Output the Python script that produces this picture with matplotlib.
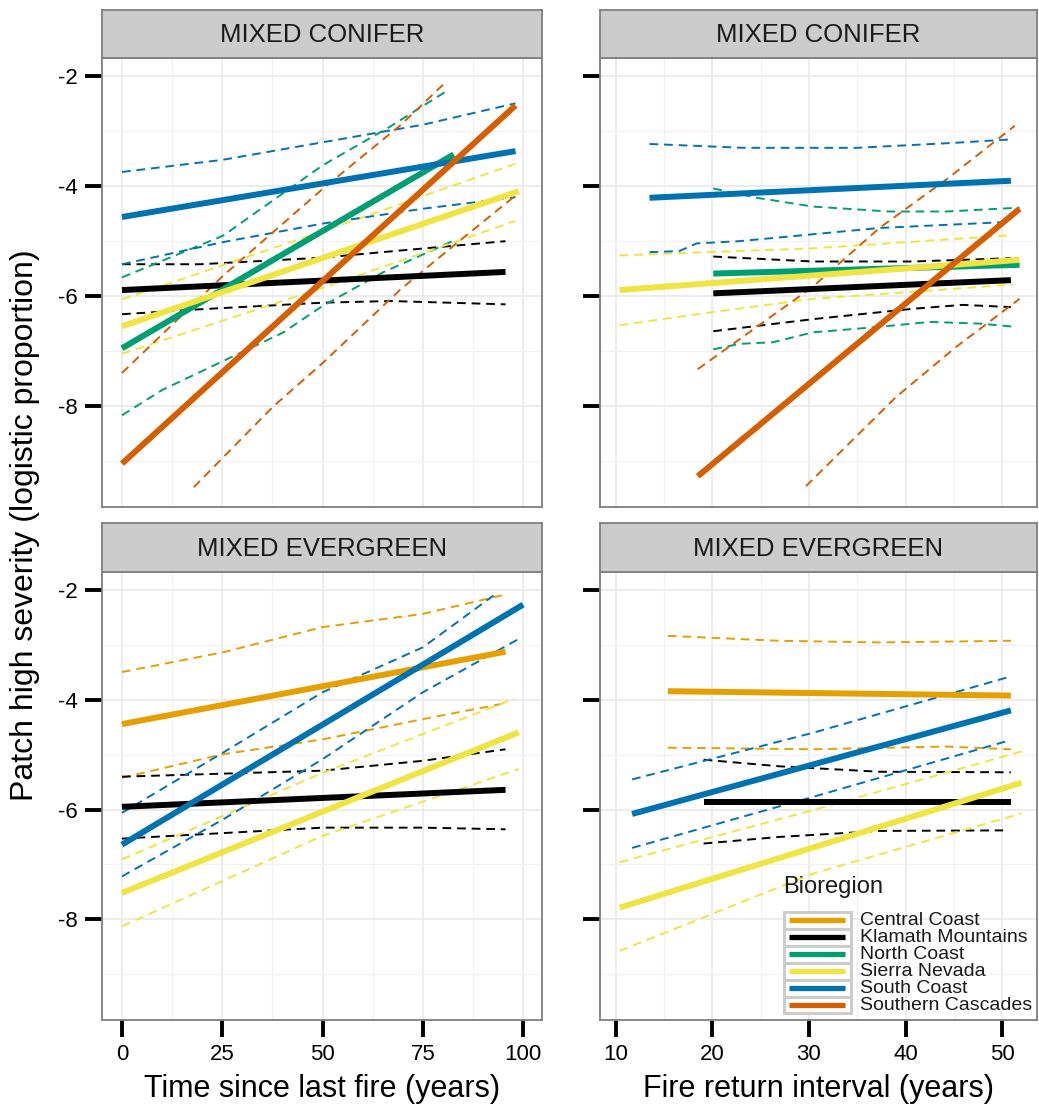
import matplotlib
matplotlib.use("Agg")
import matplotlib.pyplot as plt
from matplotlib.patches import Rectangle
from matplotlib.ticker import FixedLocator

plt.rcParams['font.family'] = ['Liberation Sans', 'DejaVu Sans']
plt.rcParams['axes.unicode_minus'] = False

# ---------------- data ----------------
regions = ["Central Coast", "Klamath Mountains", "North Coast",
           "Sierra Nevada", "South Coast", "Southern Cascades"]
region_colors = ["#E69F00", "#000000", "#009E73", "#F0E442", "#0072B2", "#D55E00"]
strip_labels = ["MIXED CONIFER", "MIXED CONIFER", "MIXED EVERGREEN", "MIXED EVERGREEN"]
x_titles = ["Time since last fire (years)", "Fire return interval (years)"]
y_title = "Patch high severity (logistic proportion)"
legend_title = "Bioregion"
tsf_ticks = [0, 25, 50, 75, 100]
tsf_minor = [12.5, 37.5, 62.5, 87.5]
fri_ticks = [10, 20, 30, 40, 50]
fri_minor = [15, 25, 35, 45]
y_ticks = [-8, -6, -4, -2]
y_minor = [-9, -7, -5, -3]

# Mixed conifer, time since last fire
mc_tsf_klamath_fit_x = [0, 95.6]
mc_tsf_klamath_fit_y = [-5.89, -5.56]
mc_tsf_klamath_hi_x = [0, 19.5, 50, 69.4, 95.6]
mc_tsf_klamath_hi_y = [-5.42, -5.42, -5.30, -5.17, -5.00]
mc_tsf_klamath_lo_x = [0, 19.5, 50, 67, 95.6]
mc_tsf_klamath_lo_y = [-6.33, -6.24, -6.12, -6.09, -6.15]

mc_tsf_north_fit_x = [0, 82.7]
mc_tsf_north_fit_y = [-6.95, -3.42]
mc_tsf_north_hi_x = [0, 25.2, 50, 66.7, 81.5]
mc_tsf_north_hi_y = [-5.66, -4.90, -3.62, -2.92, -2.24]
mc_tsf_north_lo_x = [0, 10, 25, 40, 50, 65, 82.7]
mc_tsf_north_lo_y = [-8.17, -7.71, -7.19, -6.67, -6.18, -5.57, -4.99]

mc_tsf_sierra_fit_x = [0, 98.9]
mc_tsf_sierra_fit_y = [-6.55, -4.09]
mc_tsf_sierra_hi_x = [0, 50, 98.1]
mc_tsf_sierra_hi_y = [-6.06, -4.82, -3.59]
mc_tsf_sierra_lo_x = [0, 50, 98.1]
mc_tsf_sierra_lo_y = [-7.05, -5.85, -4.63]

mc_tsf_south_fit_x = [0, 98.1]
mc_tsf_south_fit_y = [-4.56, -3.36]
mc_tsf_south_hi_x = [0, 25, 50, 75, 98.1]
mc_tsf_south_hi_y = [-3.74, -3.52, -3.20, -2.88, -2.49]
mc_tsf_south_lo_x = [0, 25, 50, 75, 98.1]
mc_tsf_south_lo_y = [-5.42, -5.02, -4.68, -4.41, -4.20]

mc_tsf_cascades_fit_x = [0, 98.1]
mc_tsf_cascades_fit_y = [-9.05, -2.53]
mc_tsf_cascades_hi_x = [0, 25.2, 50, 69.4, 80.2]
mc_tsf_cascades_hi_y = [-7.40, -5.63, -4.05, -2.89, -2.14]
mc_tsf_cascades_lo_x = [17.9, 37.7, 50, 69.4, 82.7, 98.1]
mc_tsf_cascades_lo_y = [-9.48, -8.01, -7.22, -5.88, -5.08, -4.17]

# Mixed conifer, fire return interval
mc_fri_klamath_fit_x = [20.1, 50.9]
mc_fri_klamath_fit_y = [-5.95, -5.71]
mc_fri_klamath_hi_x = [20.1, 30.4, 40.8, 50.9]
mc_fri_klamath_hi_y = [-5.28, -5.37, -5.37, -5.31]
mc_fri_klamath_lo_x = [20.1, 30.4, 40.8, 45.9, 50.9]
mc_fri_klamath_lo_y = [-6.64, -6.42, -6.23, -6.16, -6.20]

mc_fri_north_fit_x = [20.1, 51.8]
mc_fri_north_fit_y = [-5.59, -5.43]
mc_fri_north_hi_x = [20.1, 24.6, 30.4, 38.3, 44.2, 51.8]
mc_fri_north_hi_y = [-4.04, -4.21, -4.37, -4.46, -4.46, -4.39]
mc_fri_north_lo_x = [20.1, 22.8, 26.3, 30.4, 37.3, 42.5, 47.6, 51.4]
mc_fri_north_lo_y = [-6.97, -6.87, -6.84, -6.66, -6.56, -6.47, -6.50, -6.56]

mc_fri_sierra_fit_x = [10.4, 51.8]
mc_fri_sierra_fit_y = [-5.89, -5.34]
mc_fri_sierra_hi_x = [10.4, 30.4, 51.1]
mc_fri_sierra_hi_y = [-5.26, -5.13, -4.89]
mc_fri_sierra_lo_x = [10.4, 20.1, 30.4, 40.8, 51.1]
mc_fri_sierra_lo_y = [-6.53, -6.29, -6.05, -5.92, -5.79]

mc_fri_south_fit_x = [13.5, 50.9]
mc_fri_south_fit_y = [-4.21, -3.90]
mc_fri_south_hi_x = [13.5, 23.2, 35, 45.0, 50.6]
mc_fri_south_hi_y = [-3.23, -3.30, -3.30, -3.21, -3.15]
mc_fri_south_lo_x = [13.5, 16.6, 18.4, 22.8, 37.3, 50.6]
mc_fri_south_lo_y = [-5.20, -5.18, -5.04, -5.00, -4.76, -4.65]

mc_fri_cascades_fit_x = [18.5, 51.8]
mc_fri_cascades_fit_y = [-9.28, -4.41]
mc_fri_cascades_hi_x = [18.5, 30.4, 37.3, 44.2, 51.3]
mc_fri_cascades_hi_y = [-7.33, -5.83, -4.76, -3.88, -2.90]
mc_fri_cascades_lo_x = [29.7, 39.0, 45.2, 51.8]
mc_fri_cascades_lo_y = [-9.46, -7.84, -6.93, -6.05]

# Mixed evergreen, time since last fire
me_tsf_central_fit_x = [0, 95.6]
me_tsf_central_fit_y = [-4.44, -3.12]
me_tsf_central_hi_x = [0, 25.2, 50, 75, 94.8]
me_tsf_central_hi_y = [-3.49, -3.13, -2.67, -2.43, -2.09]
me_tsf_central_lo_x = [0, 25.2, 50, 75, 94.8]
me_tsf_central_lo_y = [-5.42, -4.99, -4.72, -4.35, -4.07]

me_tsf_klamath_fit_x = [0, 95.6]
me_tsf_klamath_fit_y = [-5.95, -5.64]
me_tsf_klamath_hi_x = [0, 50, 75, 95.6]
me_tsf_klamath_hi_y = [-5.40, -5.29, -5.11, -4.90]
me_tsf_klamath_lo_x = [0, 50, 75, 95.6]
me_tsf_klamath_lo_y = [-6.53, -6.33, -6.33, -6.36]

me_tsf_sierra_fit_x = [0, 98.9]
me_tsf_sierra_fit_y = [-7.52, -4.59]
me_tsf_sierra_hi_x = [0, 50, 97.7]
me_tsf_sierra_hi_y = [-6.91, -5.33, -3.98]
me_tsf_sierra_lo_x = [0, 50, 98.9]
me_tsf_sierra_lo_y = [-8.13, -6.48, -5.26]

me_tsf_south_fit_x = [0, 100]
me_tsf_south_fit_y = [-6.64, -2.26]
me_tsf_south_hi_x = [0, 25.2, 50, 75, 92.7]
me_tsf_south_hi_y = [-6.06, -4.96, -3.86, -3.04, -2.09]
me_tsf_south_lo_x = [0, 25.2, 50, 75, 99.8]
me_tsf_south_lo_y = [-7.22, -6.18, -5.08, -3.86, -2.85]

# Mixed evergreen, fire return interval
me_fri_central_fit_x = [15.4, 50.9]
me_fri_central_fit_y = [-3.84, -3.92]
me_fri_central_hi_x = [15.4, 26.9, 37.3, 50.9]
me_fri_central_hi_y = [-2.83, -2.92, -2.95, -2.92]
me_fri_central_lo_x = [15.4, 30.4, 44.2, 50.9]
me_fri_central_lo_y = [-4.87, -4.90, -4.85, -4.90]

me_fri_klamath_fit_x = [19.1, 50.9]
me_fri_klamath_fit_y = [-5.86, -5.86]
me_fri_klamath_hi_x = [19.1, 26.9, 37.3, 50.9]
me_fri_klamath_hi_y = [-5.09, -5.21, -5.31, -5.32]
me_fri_klamath_lo_x = [19.1, 26.9, 37.3, 50.1]
me_fri_klamath_lo_y = [-6.62, -6.50, -6.39, -6.38]

me_fri_sierra_fit_x = [10.4, 52.0]
me_fri_sierra_fit_y = [-7.79, -5.51]
me_fri_sierra_hi_x = [10.4, 30.4, 52.0]
me_fri_sierra_hi_y = [-6.96, -6.01, -4.94]
me_fri_sierra_lo_x = [10.4, 30.4, 52.0]
me_fri_sierra_lo_y = [-8.58, -7.17, -6.07]

me_fri_south_fit_x = [11.7, 50.9]
me_fri_south_fit_y = [-6.08, -4.19]
me_fri_south_hi_x = [11.7, 30.4, 50.9]
me_fri_south_hi_y = [-5.45, -4.60, -3.57]
me_fri_south_lo_x = [11.7, 30.4, 50.9]
me_fri_south_lo_y = [-6.70, -5.77, -4.73]

# table of (region, fit, hi, lo) per panel
panels = [
    [("Klamath Mountains", mc_tsf_klamath_fit_x, mc_tsf_klamath_fit_y, mc_tsf_klamath_hi_x, mc_tsf_klamath_hi_y, mc_tsf_klamath_lo_x, mc_tsf_klamath_lo_y),
     ("North Coast", mc_tsf_north_fit_x, mc_tsf_north_fit_y, mc_tsf_north_hi_x, mc_tsf_north_hi_y, mc_tsf_north_lo_x, mc_tsf_north_lo_y),
     ("Sierra Nevada", mc_tsf_sierra_fit_x, mc_tsf_sierra_fit_y, mc_tsf_sierra_hi_x, mc_tsf_sierra_hi_y, mc_tsf_sierra_lo_x, mc_tsf_sierra_lo_y),
     ("South Coast", mc_tsf_south_fit_x, mc_tsf_south_fit_y, mc_tsf_south_hi_x, mc_tsf_south_hi_y, mc_tsf_south_lo_x, mc_tsf_south_lo_y),
     ("Southern Cascades", mc_tsf_cascades_fit_x, mc_tsf_cascades_fit_y, mc_tsf_cascades_hi_x, mc_tsf_cascades_hi_y, mc_tsf_cascades_lo_x, mc_tsf_cascades_lo_y)],
    [("Klamath Mountains", mc_fri_klamath_fit_x, mc_fri_klamath_fit_y, mc_fri_klamath_hi_x, mc_fri_klamath_hi_y, mc_fri_klamath_lo_x, mc_fri_klamath_lo_y),
     ("North Coast", mc_fri_north_fit_x, mc_fri_north_fit_y, mc_fri_north_hi_x, mc_fri_north_hi_y, mc_fri_north_lo_x, mc_fri_north_lo_y),
     ("Sierra Nevada", mc_fri_sierra_fit_x, mc_fri_sierra_fit_y, mc_fri_sierra_hi_x, mc_fri_sierra_hi_y, mc_fri_sierra_lo_x, mc_fri_sierra_lo_y),
     ("South Coast", mc_fri_south_fit_x, mc_fri_south_fit_y, mc_fri_south_hi_x, mc_fri_south_hi_y, mc_fri_south_lo_x, mc_fri_south_lo_y),
     ("Southern Cascades", mc_fri_cascades_fit_x, mc_fri_cascades_fit_y, mc_fri_cascades_hi_x, mc_fri_cascades_hi_y, mc_fri_cascades_lo_x, mc_fri_cascades_lo_y)],
    [("Central Coast", me_tsf_central_fit_x, me_tsf_central_fit_y, me_tsf_central_hi_x, me_tsf_central_hi_y, me_tsf_central_lo_x, me_tsf_central_lo_y),
     ("Klamath Mountains", me_tsf_klamath_fit_x, me_tsf_klamath_fit_y, me_tsf_klamath_hi_x, me_tsf_klamath_hi_y, me_tsf_klamath_lo_x, me_tsf_klamath_lo_y),
     ("Sierra Nevada", me_tsf_sierra_fit_x, me_tsf_sierra_fit_y, me_tsf_sierra_hi_x, me_tsf_sierra_hi_y, me_tsf_sierra_lo_x, me_tsf_sierra_lo_y),
     ("South Coast", me_tsf_south_fit_x, me_tsf_south_fit_y, me_tsf_south_hi_x, me_tsf_south_hi_y, me_tsf_south_lo_x, me_tsf_south_lo_y)],
    [("Central Coast", me_fri_central_fit_x, me_fri_central_fit_y, me_fri_central_hi_x, me_fri_central_hi_y, me_fri_central_lo_x, me_fri_central_lo_y),
     ("Klamath Mountains", me_fri_klamath_fit_x, me_fri_klamath_fit_y, me_fri_klamath_hi_x, me_fri_klamath_hi_y, me_fri_klamath_lo_x, me_fri_klamath_lo_y),
     ("Sierra Nevada", me_fri_sierra_fit_x, me_fri_sierra_fit_y, me_fri_sierra_hi_x, me_fri_sierra_hi_y, me_fri_sierra_lo_x, me_fri_sierra_lo_y),
     ("South Coast", me_fri_south_fit_x, me_fri_south_fit_y, me_fri_south_hi_x, me_fri_south_hi_y, me_fri_south_lo_x, me_fri_south_lo_y)],
]

# ---------------- layout ----------------
W, H = 1039, 1116
fig = plt.figure(figsize=(W / 100, H / 100), dpi=100)


def rect(x0, x1, ytop, ybot):
    return [x0 / W, 1 - ybot / H, (x1 - x0) / W, (ybot - ytop) / H]


col_x = [(102, 542), (600, 1037)]
row_y = [(10, 58, 507), (523, 572, 1020)]
color_of = dict(zip(regions, region_colors))
GREY50 = "#7F7F7F"

for i in range(4):
    r, c = divmod(i, 2)
    x0, x1 = col_x[c]
    st, pt, pb = row_y[r]
    ax = fig.add_axes(rect(x0, x1, pt, pb))
    sax = fig.add_axes(rect(x0, x1, st, pt))
    # strip
    sax.set_facecolor("#CCCCCC")
    sax.set_xticks([]); sax.set_yticks([])
    for s in sax.spines.values():
        s.set_color(GREY50); s.set_linewidth(1.3)
    sax.text(0.5, 0.47, strip_labels[i], ha="center", va="center",
             fontsize=18.5, color="#1A1A1A", transform=sax.transAxes)

    # panel
    if c == 0:
        ax.set_xlim(-4.98, 104.7)
        ax.xaxis.set_major_locator(FixedLocator(tsf_ticks))
        ax.xaxis.set_minor_locator(FixedLocator(tsf_minor))
    else:
        ax.set_xlim(8.38, 53.6)
        ax.xaxis.set_major_locator(FixedLocator(fri_ticks))
        ax.xaxis.set_minor_locator(FixedLocator(fri_minor))
    ax.set_ylim(-9.84, -1.665)
    ax.yaxis.set_major_locator(FixedLocator(y_ticks))
    ax.yaxis.set_minor_locator(FixedLocator(y_minor))
    ax.grid(True, which="major", color="#EBEBEB", linewidth=1.3, zorder=0)
    ax.grid(True, which="minor", color="#F2F2F2", linewidth=0.9, zorder=0)
    ax.set_axisbelow(True)
    for s in ax.spines.values():
        s.set_color(GREY50); s.set_linewidth(1.3)
    ax.tick_params(which="minor", length=0)
    ax.tick_params(which="major", length=12.5, width=2.8, color="black",
                   labelsize=16, pad=5)
    if c == 1:
        ax.tick_params(axis="y", labelleft=False)
    if r == 0:
        ax.tick_params(axis="x", length=0, labelbottom=False)
    else:
        ax.set_xlabel(x_titles[c], fontsize=22, labelpad=6)

    for (reg, fx, fy, hx, hy, lx, ly) in panels[i]:
        col = color_of[reg]
        ax.plot(hx, hy, color=col, lw=1.4, dashes=(4.5, 3), zorder=2)
        ax.plot(lx, ly, color=col, lw=1.4, dashes=(4.5, 3), zorder=2)
    for (reg, fx, fy, hx, hy, lx, ly) in panels[i]:
        col = color_of[reg]
        ax.plot(fx, fy, color=col, lw=4.3, solid_capstyle="butt", zorder=3)

fig.text(25 / W, 1 - 525 / H, y_title, rotation=90, ha="center", va="center",
         fontsize=23)

# ---------------- legend (pixel overlay) ----------------
ov = fig.add_axes([0, 0, 1, 1], zorder=10)
ov.set_xlim(0, W); ov.set_ylim(H, 0)
ov.axis("off")
ov.patch.set_alpha(0)
ov.text(783, 887, legend_title, fontsize=17, ha="left", va="center", color="#1A1A1A")
key_top = 912
key_h = 16.9
for k, (reg, col) in enumerate(zip(regions, region_colors)):
    yc = key_top + key_h * (k + 0.5)
    ov.add_patch(Rectangle((784, key_top + key_h * k), 67, key_h,
                           facecolor="white", edgecolor="#CCCCCC", lw=2.2))
    ov.plot([789, 845], [yc, yc], color=col, lw=3.8, solid_capstyle="butt")
    ov.text(860, yc + 0.5, reg, fontsize=14, ha="left", va="center", color="#1A1A1A")

fig.savefig("out.png", dpi=100)
